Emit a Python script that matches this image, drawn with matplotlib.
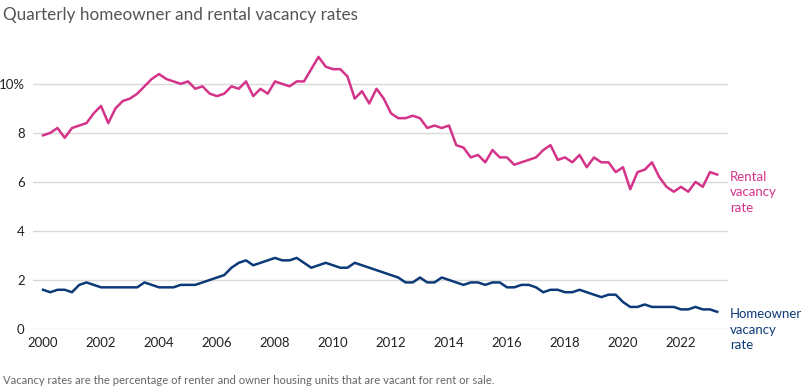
import numpy as np
import matplotlib.pyplot as plt

# Quarterly data, 2000 Q1 - 2023 Q2
rental = [7.9, 8.0, 8.2, 7.8, 8.2, 8.3, 8.4, 8.8, 9.1, 8.4, 9.0, 9.3,
          9.4, 9.6, 9.9, 10.2, 10.4, 10.2, 10.1, 10.0, 10.1, 9.8, 9.9, 9.6,
          9.5, 9.6, 9.9, 9.8, 10.1, 9.5, 9.8, 9.6, 10.1, 10.0, 9.9, 10.1,
          10.1, 10.6, 11.1, 10.7, 10.6, 10.6, 10.3, 9.4, 9.7, 9.2, 9.8, 9.4,
          8.8, 8.6, 8.6, 8.7, 8.6, 8.2, 8.3, 8.2, 8.3, 7.5, 7.4, 7.0,
          7.1, 6.8, 7.3, 7.0, 7.0, 6.7, 6.8, 6.9, 7.0, 7.3, 7.5, 6.9,
          7.0, 6.8, 7.1, 6.6, 7.0, 6.8, 6.8, 6.4, 6.6, 5.7, 6.4, 6.5,
          6.8, 6.2, 5.8, 5.6, 5.8, 5.6, 6.0, 5.8, 6.4, 6.3]
homeowner = [1.6, 1.5, 1.6, 1.6, 1.5, 1.8, 1.9, 1.8, 1.7, 1.7, 1.7, 1.7,
             1.7, 1.7, 1.9, 1.8, 1.7, 1.7, 1.7, 1.8, 1.8, 1.8, 1.9, 2.0,
             2.1, 2.2, 2.5, 2.7, 2.8, 2.6, 2.7, 2.8, 2.9, 2.8, 2.8, 2.9,
             2.7, 2.5, 2.6, 2.7, 2.6, 2.5, 2.5, 2.7, 2.6, 2.5, 2.4, 2.3,
             2.2, 2.1, 1.9, 1.9, 2.1, 1.9, 1.9, 2.1, 2.0, 1.9, 1.8, 1.9,
             1.9, 1.8, 1.9, 1.9, 1.7, 1.7, 1.8, 1.8, 1.7, 1.5, 1.6, 1.6,
             1.5, 1.5, 1.6, 1.5, 1.4, 1.3, 1.4, 1.4, 1.1, 0.9, 0.9, 1.0,
             0.9, 0.9, 0.9, 0.9, 0.8, 0.8, 0.9, 0.8, 0.8, 0.7]
years = 2000 + np.arange(len(rental)) / 4
xticks = list(range(2000, 2023, 2))
yticks = [0, 2, 4, 6, 8, 10]
ylabels = ["0", "2", "4", "6", "8", "10%"]

pink = "#d4338a"
navy = "#0c3a78"

plt.rcParams['font.family'] = ['Lato', 'DejaVu Sans']

fig = plt.figure(figsize=(8.08, 3.92), dpi=100)
ax = fig.add_axes([33 / 808, 63 / 392, 695 / 808, 277 / 392])

ax.plot(years, rental, color=pink, lw=1.8, solid_joinstyle='round', clip_on=False)
ax.plot(years, homeowner, color=navy, lw=1.8, solid_joinstyle='round', clip_on=False)

ax.set_xlim(2000 - 10 / 29, 2000 + 685 / 29)
ax.set_ylim(0, 11.3)
ax.set_xticks(xticks)
ax.set_xticklabels([str(x) for x in xticks])
ax.set_yticks(yticks)
ax.set_yticklabels(ylabels)
ax.tick_params(length=0, labelsize=9.5, colors="#222222")
ax.tick_params(axis='x', pad=6)
ax.tick_params(axis='y', pad=6)
ax.grid(axis='y', color="#d9d9d9", lw=1)
ax.set_axisbelow(True)
for s in ax.spines.values():
    s.set_visible(False)

ax.text(2023.68, 6.45, "Rental\nvacancy\nrate", color=pink, fontsize=9.5,
        va='top', ha='left', linespacing=1.35)
ax.text(2023.68, 0.85, "Homeowner\nvacancy\nrate", color=navy, fontsize=9.5,
        va='top', ha='left', linespacing=1.35)

fig.text(3 / 808, 1 - 15 / 392, "Quarterly homeowner and rental vacancy rates",
         fontsize=12.3, color="#555555", va='center', ha='left')
fig.text(3 / 808, 1 - 381 / 392,
         "Vacancy rates are the percentage of renter and owner housing units that are vacant for rent or sale.",
         fontsize=8.1, color="#666666", va='center', ha='left')

fig.savefig("out.png", dpi=100)
